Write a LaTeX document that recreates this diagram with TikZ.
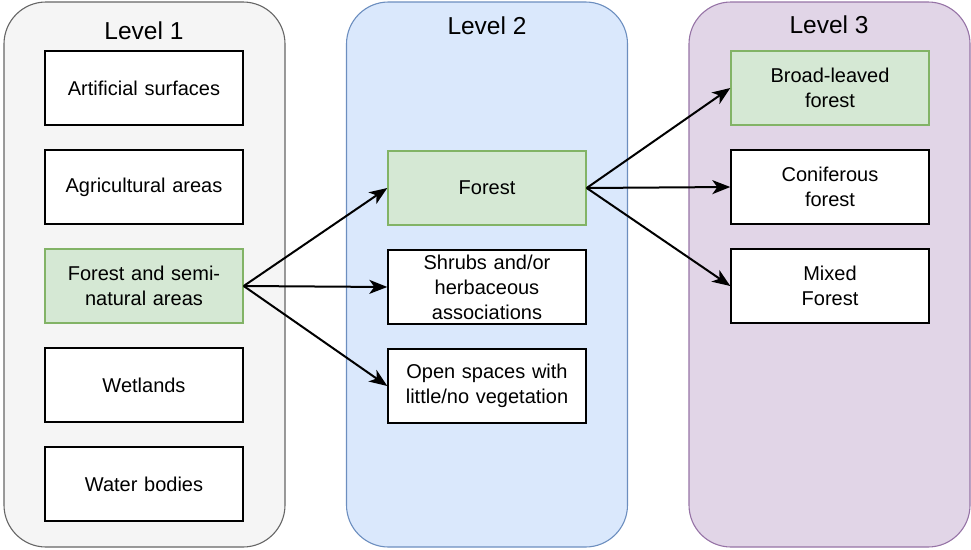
\documentclass[tikz,border=0pt]{standalone}
\usepackage{fontspec}
\setmainfont{Liberation Sans}
\usetikzlibrary{arrows.meta}
\definecolor{lonefill}{HTML}{F5F5F5}
\definecolor{lonedraw}{HTML}{666666}
\definecolor{ltwofill}{HTML}{DAE8FC}
\definecolor{ltwodraw}{HTML}{6C8EBF}
\definecolor{lthreefill}{HTML}{E1D5E7}
\definecolor{lthreedraw}{HTML}{9673A6}
\definecolor{gfill}{HTML}{D5E8D4}
\definecolor{gdraw}{HTML}{82B366}
\begin{document}
\begin{tikzpicture}[x=1pt,y=-1pt,
  container/.style={draw, rounded corners=42pt, line width=1.1pt, minimum width=281pt, minimum height=545pt, inner sep=0pt},
  catbox/.style={draw=black, fill=white, line width=1.4pt, minimum width=198pt, minimum height=74pt, text width=190pt, align=center, inner sep=0pt, font=\fontsize{20}{25}\selectfont},
  greenbox/.style={catbox, draw=gdraw, fill=gfill},
  title/.style={font=\fontsize{24.5}{28}\selectfont, inner sep=0pt},
  arr/.style={-{Stealth[length=18pt,width=14pt,inset=5pt]}, line width=2pt}
]
\useasboundingbox (0,0) rectangle (971,549);
\node[container, draw=lonedraw, fill=lonefill] (c1) at (144.5,274.5) {};
\node[container, draw=ltwodraw, fill=ltwofill] (c2) at (487,274.5) {};
\node[container, draw=lthreedraw, fill=lthreefill] (c3) at (829.5,274.5) {};
\node[title] (t1) at (144,31) {Level 1};
\node[title] (t2) at (487,26) {Level 2};
\node[title] (t3) at (829,25) {Level 3};

\node[catbox] (art) at (144,88) {Artificial surfaces};
\node[catbox] (agr) at (144,187) {Agricultural areas};
\node[greenbox] (fsn) at (144,286) {Forest and semi-\\natural areas};
\node[catbox] (wet) at (144,385) {Wetlands};
\node[catbox] (wat) at (144,484) {Water bodies};

\node[greenbox] (for) at (487,188) {Forest};
\node[catbox] (shr) at (487,287) {Shrubs and/or\\herbaceous\\associations};
\node[catbox] (opn) at (487,386) {Open spaces with\\little/no vegetation};

\node[greenbox] (brd) at (830,88) {Broad-leaved\\forest};
\node[catbox] (con) at (830,187) {Coniferous\\forest};
\node[catbox] (mix) at (830,286) {Mixed\\Forest};

\draw[arr] (fsn.east) -- (for.west);
\draw[arr] (fsn.east) -- (shr.west);
\draw[arr] (fsn.east) -- (opn.west);
\draw[arr] (for.east) -- (brd.west);
\draw[arr] (for.east) -- (con.west);
\draw[arr] (for.east) -- (mix.west);
\end{tikzpicture}
\end{document}
